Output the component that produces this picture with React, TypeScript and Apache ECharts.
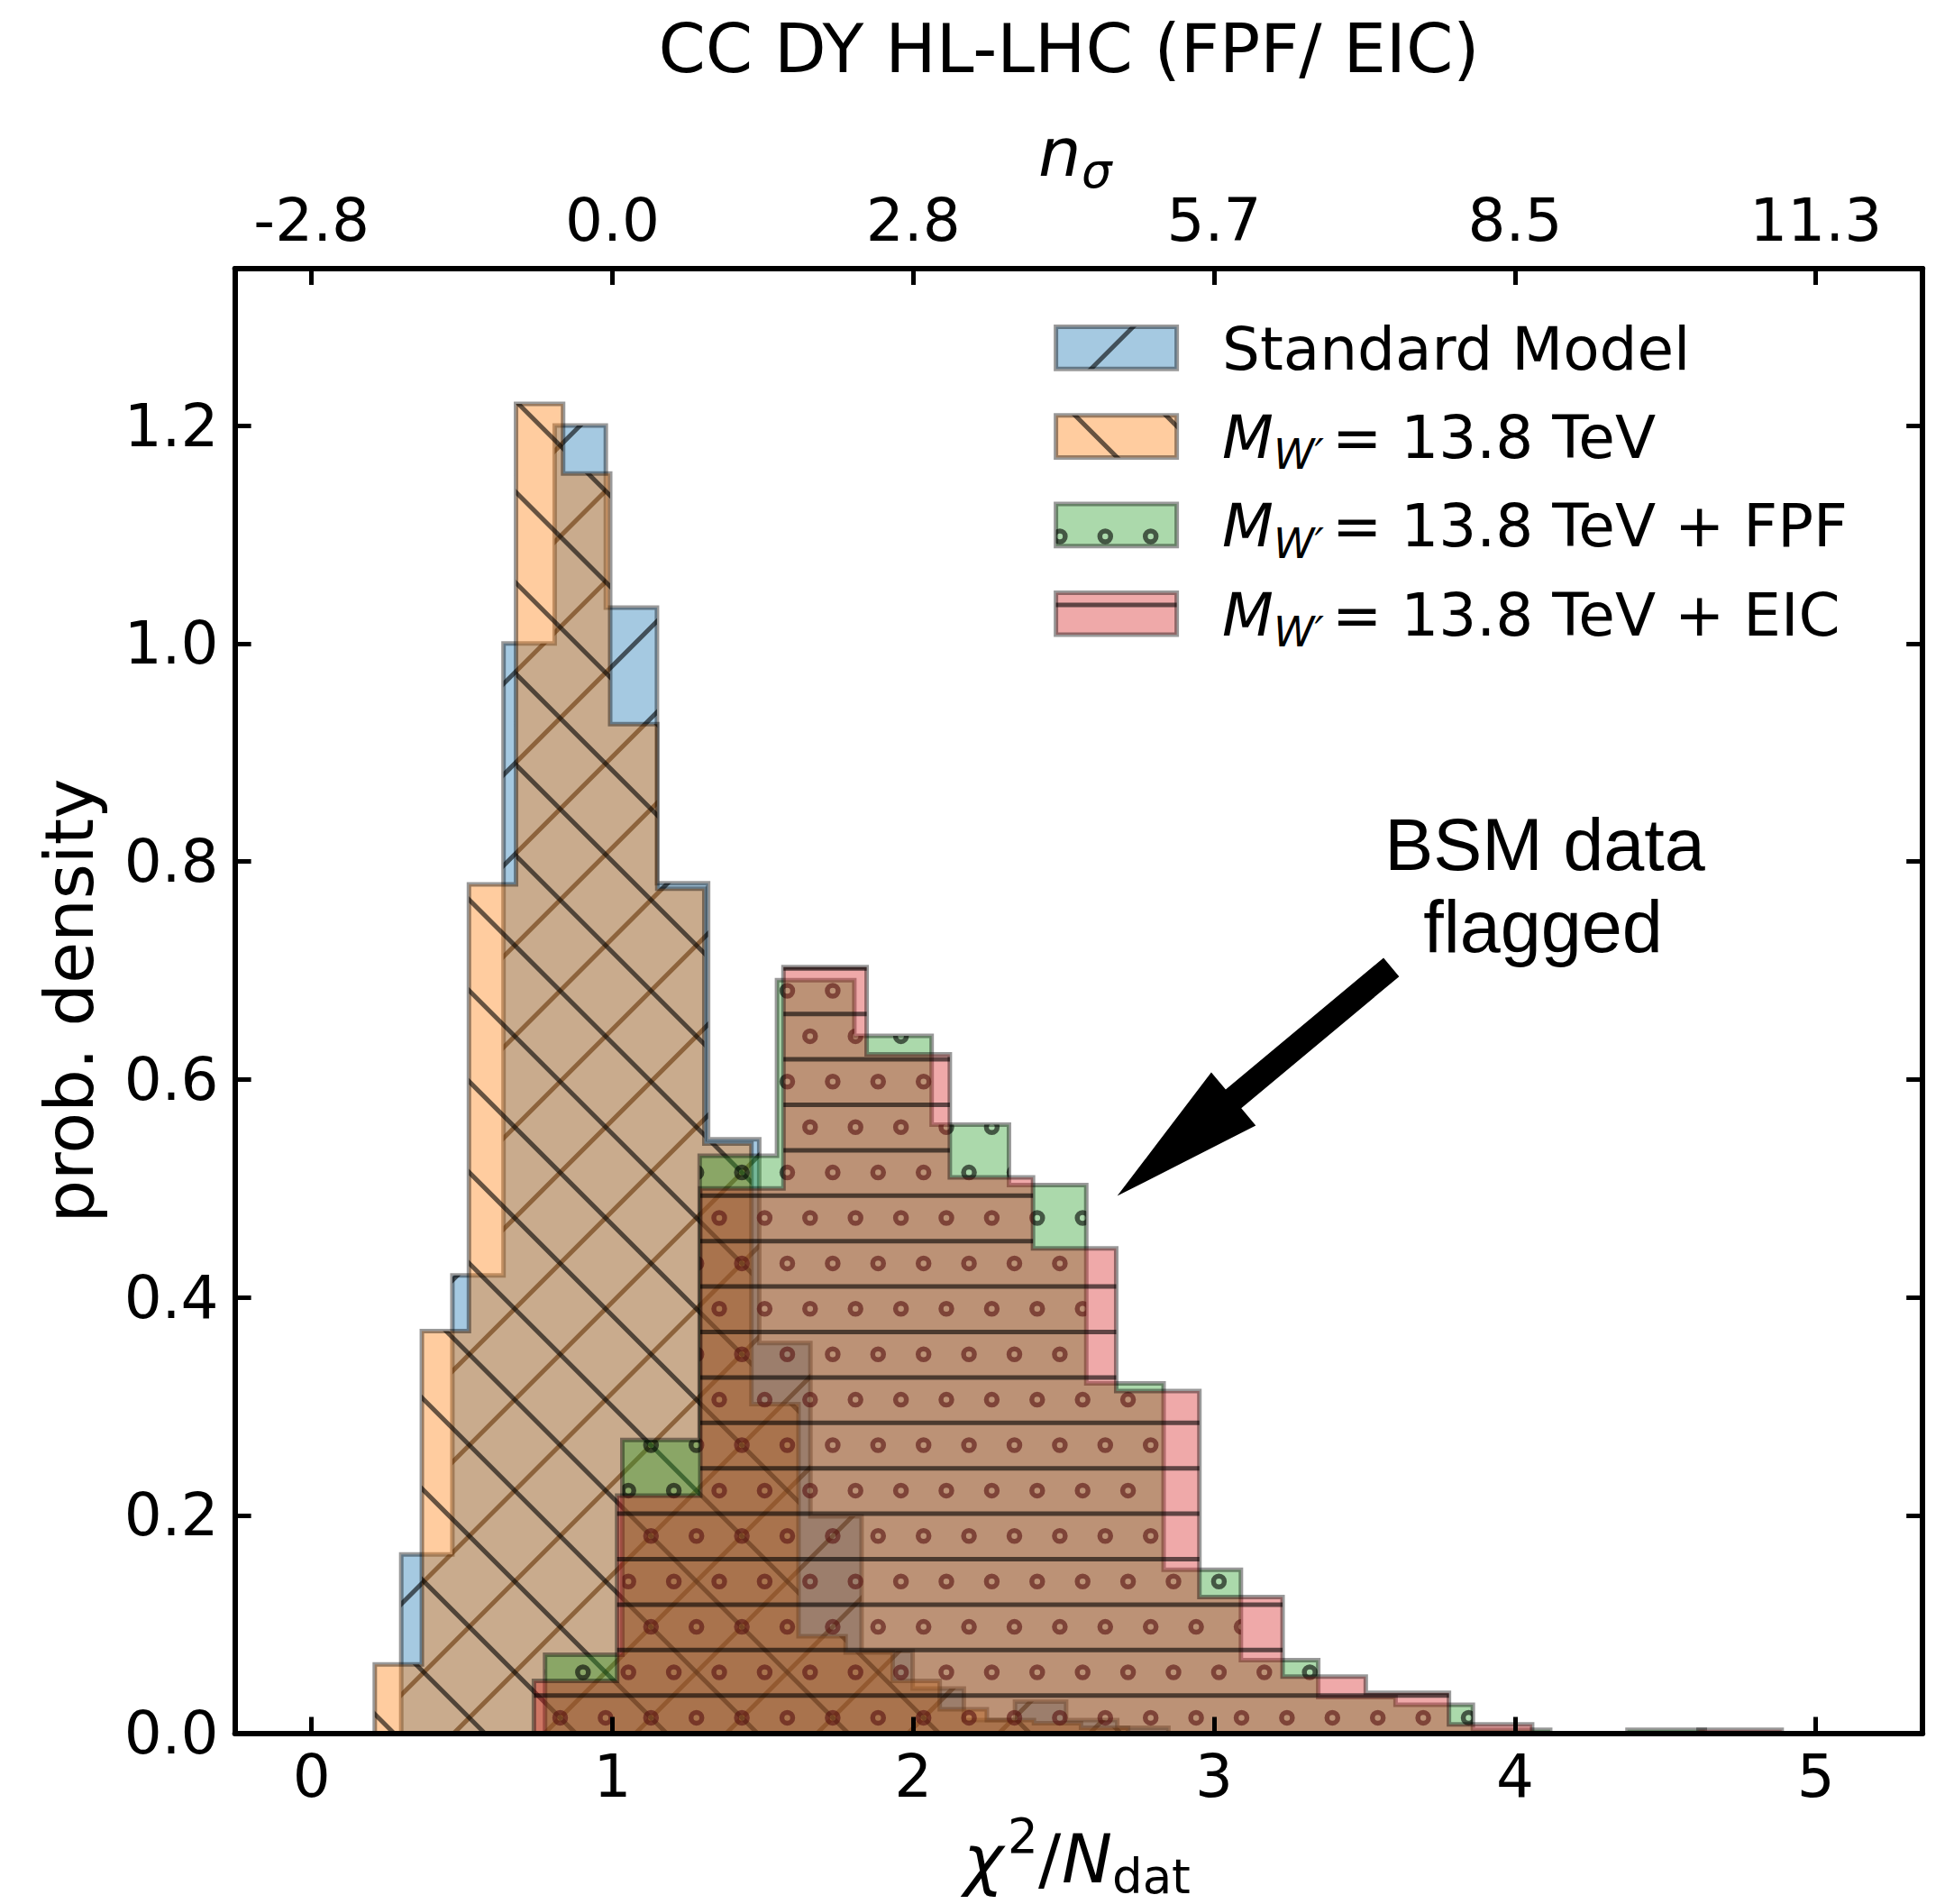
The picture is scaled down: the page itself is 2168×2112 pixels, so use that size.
import React, { useEffect, useRef } from "react";
import * as echarts from "echarts";

// ---------- axis ticks ----------
const xTickValues = [0, 1, 2, 3, 4, 5];
const xTickLabels = ["0", "1", "2", "3", "4", "5"];
const nSigmaTickLabels = ["-2.8", "0.0", "2.8", "5.7", "8.5", "11.3"];
const yTickValues = [0, 0.2, 0.4, 0.6, 0.8, 1.0, 1.2];
const yTickLabels = ["0.0", "0.2", "0.4", "0.6", "0.8", "1.0", "1.2"];

// ---------- histogram data (bin edges + densities) ----------
const smEdges = [0.298, 0.468, 0.638, 0.808, 0.978, 1.148, 1.318, 1.488, 1.658, 1.828, 1.998, 2.168, 2.338, 2.508, 2.678, 2.848];
const smHeights = [0.164, 0.42, 1.0, 1.2, 1.033, 0.78, 0.545, 0.358, 0.199, 0.0754, 0.041, 0.012, 0.029, 0.012, 0.005];

const wEdges = [0.21, 0.3665, 0.523, 0.6795, 0.836, 0.9925, 1.149, 1.3055, 1.462, 1.6185, 1.775, 1.9315, 2.088, 2.2445, 2.401, 2.5575, 2.714];
const wHeights = [0.063, 0.369, 0.779, 1.22, 1.156, 0.926, 0.775, 0.541, 0.302, 0.089, 0.074, 0.048, 0.022, 0.012, 0.009, 0.005];

const fpfEdges = [0.776, 1.033, 1.29, 1.547, 1.804, 2.061, 2.318, 2.575, 2.832, 3.089, 3.346, 3.603, 3.86, 4.117, 4.374, 4.631, 4.888];
const fpfHeights = [0.072, 0.269, 0.53, 0.691, 0.64, 0.5585, 0.503, 0.321, 0.15, 0.067, 0.033, 0.026, 0.003, 0, 0.003, 0];

const eicEdges = [0.739, 1.0155, 1.292, 1.5685, 1.845, 2.1215, 2.398, 2.6745, 2.951, 3.2275, 3.504, 3.7805, 4.057, 4.3335, 4.61, 4.8865];
const eicHeights = [0.048, 0.218, 0.5, 0.703, 0.623, 0.51, 0.445, 0.314, 0.125, 0.052, 0.037, 0.008, 0, 0, 0.003];

const seriesNames = ["Standard Model", "M_W' = 13.8 TeV", "M_W' = 13.8 TeV + FPF", "M_W' = 13.8 TeV + EIC"];
const legendSuffixes = ["", "= 13.8 TeV", "= 13.8 TeV + FPF", "= 13.8 TeV + EIC"];

// annotation (data coordinates)
const arrowTip = [2.678, 0.493];
const arrowTail = [3.589, 0.703];
const annotationLines = ["BSM data", "flagged"];

// ---------- styling ----------
const X_MIN = -0.255;
const X_MAX = 5.355;
const Y_MIN = 0;
const Y_MAX = 1.344;
const FILLS = ["rgba(31,119,180,0.4)", "rgba(255,127,14,0.4)", "rgba(44,160,44,0.4)", "rgba(214,39,40,0.4)"];
const HATCHES = ["/", "\\", "o", "-"];
const EDGE = "rgba(0,0,0,0.4)";
const HATCH_COLOR = "rgba(0,0,0,0.6)";
const DJ = '"DejaVu Sans"';
const LIB = '"Liberation Sans"';

// hatch geometry (page pixels): period and phases
const TILE = 504;
const P = 100.8;
const HP = 50.4;

function makeHatch(kind: string) {
  const c = document.createElement("canvas");
  c.width = TILE;
  c.height = TILE;
  const ctx = c.getContext("2d") as CanvasRenderingContext2D;
  ctx.strokeStyle = HATCH_COLOR;
  ctx.lineWidth = 5;
  if (kind === "/") {
    ctx.beginPath();
    for (let k = -1; k <= 11; k++) {
      const s = 6.9 + P * k;
      ctx.moveTo(s + 30, -30);
      ctx.lineTo(s - TILE - 30, TILE + 30);
    }
    ctx.stroke();
  } else if (kind === "\\") {
    ctx.beginPath();
    for (let k = -7; k <= 6; k++) {
      const d = 74.3 + P * k;
      ctx.moveTo(-30, d - 30);
      ctx.lineTo(TILE + 30, d + TILE + 30);
    }
    ctx.stroke();
  } else if (kind === "-") {
    ctx.beginPath();
    for (let k = 0; k < 10; k++) {
      const y = 15.9 + HP * k;
      ctx.moveTo(-10, y);
      ctx.lineTo(TILE + 10, y);
    }
    ctx.stroke();
  } else if (kind === "o") {
    ctx.lineWidth = 5.5;
    for (let n = 0; n < 10; n++) {
      const y = 40.6 + HP * n;
      const x0 = n % 2 === 0 ? 42.0 : 16.7;
      for (let m = 0; m < 10; m++) {
        const x = x0 + HP * m;
        for (const ox of [-TILE, 0, TILE])
          for (const oy of [-TILE, 0, TILE]) {
            ctx.beginPath();
            ctx.arc(x + ox, y + oy, 6, 0, Math.PI * 2);
            ctx.stroke();
          }
      }
    }
  }
  return { image: c.toDataURL("image/png"), repeat: "repeat", imageWidth: TILE, imageHeight: TILE };
}

function txt(text: string, x: number, baseline: number, size: number, opts: any = {}) {
  const fam = opts.family || DJ;
  return {
    type: "text",
    x,
    y: baseline - 0.346 * size,
    z: 100,
    silent: true,
    style: {
      text,
      font: `${opts.italic ? "italic " : ""}${size}px ${fam}`,
      fill: "#000",
      align: opts.align || "left",
      verticalAlign: "middle",
    },
  };
}

export default function App() {
  const ref = useRef<HTMLDivElement>(null);

  useEffect(() => {
    const el = ref.current as HTMLDivElement;
    const chart = echarts.init(el, null, { renderer: "svg" });
    const patterns = HATCHES.map((h) => makeHatch(h));

    const hists = [
      { edges: smEdges, heights: smHeights },
      { edges: wEdges, heights: wHeights },
      { edges: fpfEdges, heights: fpfHeights },
      { edges: eicEdges, heights: eicHeights },
    ];

    const labelFont = { fontFamily: "DejaVu Sans", fontSize: 66, color: "#000" };
    const lineStyle = { color: "#000", width: 6 };
    const tickStyle = { color: "#000", width: 5 };
    const lookup = (vals: number[], labels: string[]) => (v: number) => {
      const i = vals.findIndex((t) => Math.abs(t - v) < 1e-6);
      return i >= 0 ? labels[i] : "";
    };

    const option: any = {
      animation: false,
      grid: { left: 260.6, top: 298, width: 1872.6, height: 1624.5, containLabel: false },
      xAxis: [
        {
          type: "value",
          position: "bottom",
          min: X_MIN,
          max: X_MAX,
          z: 10,
          splitLine: { show: false },
          axisLine: { show: true, onZero: false, lineStyle },
          axisTick: { show: true, inside: true, length: 18, lineStyle: tickStyle, customValues: xTickValues },
          axisLabel: { ...labelFont, margin: 15, customValues: xTickValues, formatter: lookup(xTickValues, xTickLabels) },
        },
        {
          type: "value",
          position: "top",
          min: X_MIN,
          max: X_MAX,
          z: 10,
          splitLine: { show: false },
          axisLine: { show: true, onZero: false, lineStyle },
          axisTick: { show: true, inside: true, length: 18, lineStyle: tickStyle, customValues: xTickValues },
          axisLabel: { ...labelFont, margin: 21, customValues: xTickValues, formatter: lookup(xTickValues, nSigmaTickLabels) },
        },
      ],
      yAxis: [
        {
          type: "value",
          position: "left",
          min: Y_MIN,
          max: Y_MAX,
          z: 10,
          splitLine: { show: false },
          axisLine: { show: true, onZero: false, lineStyle },
          axisTick: { show: true, inside: true, length: 18, lineStyle: tickStyle, customValues: yTickValues },
          axisLabel: { ...labelFont, margin: 18, customValues: yTickValues, formatter: lookup(yTickValues, yTickLabels) },
        },
        {
          type: "value",
          position: "right",
          min: Y_MIN,
          max: Y_MAX,
          z: 10,
          splitLine: { show: false },
          axisLine: { show: true, onZero: false, lineStyle },
          axisTick: { show: true, inside: true, length: 18, lineStyle: tickStyle, customValues: yTickValues },
          axisLabel: { show: false },
        },
      ],
      series: hists.map((h, si) => ({
        type: "custom",
        name: seriesNames[si],
        xAxisIndex: 0,
        yAxisIndex: 0,
        silent: true,
        clip: false,
        z: 2 + si * 0.01,
        data: h.heights.map((v, i) => [h.edges[i], h.edges[i + 1], v]),
        encode: { x: [0, 1], y: 2 },
        renderItem: (params: any, api: any) => {
          if (params.dataIndex !== 0) return null;
          const pts: number[][] = [api.coord([h.edges[0], 0])];
          h.heights.forEach((v, i) => {
            pts.push(api.coord([h.edges[i], v]));
            pts.push(api.coord([h.edges[i + 1], v]));
          });
          pts.push(api.coord([h.edges[h.edges.length - 1], 0]));
          return {
            type: "group",
            children: [
              { type: "polygon", shape: { points: pts }, style: { fill: FILLS[si], stroke: null } },
              {
                type: "polygon",
                shape: { points: pts },
                style: { fill: patterns[si], stroke: EDGE, lineWidth: 5, lineJoin: "miter" },
              },
            ],
          };
        },
      })),
    };

    chart.setOption(option);

    // ---------- annotations / legend / labels ----------
    const graphic: any[] = [];
    graphic.push(txt("CC DY HL-LHC (FPF/ EIC)", 1186, 80, 75, { align: "center" }));
    graphic.push(txt("n", 1152, 195, 75, { italic: true }));
    graphic.push(txt("σ", 1200, 208, 53, { italic: true }));
    graphic.push(txt("χ", 1069, 2088, 75, { italic: true }));
    graphic.push(txt("2", 1118, 2055, 53));
    graphic.push(txt("/", 1152, 2088, 75));
    graphic.push(txt("N", 1178, 2088, 75, { italic: true }));
    graphic.push(txt("dat", 1234, 2100, 53));
    graphic.push({
      type: "text",
      x: 77,
      y: 1110,
      rotation: Math.PI / 2,
      z: 100,
      silent: true,
      style: { text: "prob. density", font: `75px ${DJ}`, fill: "#000", align: "center", verticalAlign: "middle" },
    });

    // legend
    const legendBaselines = [410, 508.3, 606.6, 704.9];
    legendBaselines.forEach((B, i) => {
      const shape = { x: 1171.6, y: B - 47.5, width: 134, height: 46.7 };
      graphic.push({ type: "rect", z: 90, silent: true, shape, style: { fill: FILLS[i], stroke: null } });
      graphic.push({
        type: "rect",
        z: 91,
        silent: true,
        shape,
        style: { fill: patterns[i], stroke: EDGE, lineWidth: 5 },
      });
      if (i === 0) {
        graphic.push(txt(seriesNames[0], 1356, B, 66));
      } else {
        graphic.push(txt("M", 1356, B, 66, { italic: true }));
        graphic.push(txt("W′", 1413, B + 12, 46, { italic: true }));
        graphic.push(txt(legendSuffixes[i], 1478, B, 66));
      }
    });

    // annotation text
    graphic.push(txt(annotationLines[0], 1714, 965, 81, { align: "center", family: LIB }));
    graphic.push(txt(annotationLines[1], 1712, 1056, 81, { align: "center", family: LIB }));

    // arrow
    const tip = chart.convertToPixel({ seriesIndex: 0 }, arrowTip) as number[];
    const tail = chart.convertToPixel({ seriesIndex: 0 }, arrowTail) as number[];
    if (tip && tail) {
      const dx = tail[0] - tip[0];
      const dy = tail[1] - tip[1];
      const L = Math.hypot(dx, dy);
      const ux = dx / L;
      const uy = dy / L;
      const px = -uy;
      const py = ux;
      const headLen = 168;
      const headHalf = 38.5;
      const shaftHalf = 13.5;
      const bx = tip[0] + ux * headLen;
      const by = tip[1] + uy * headLen;
      const points = [
        [tip[0], tip[1]],
        [bx + px * headHalf, by + py * headHalf],
        [bx + px * shaftHalf, by + py * shaftHalf],
        [tail[0] + px * shaftHalf, tail[1] + py * shaftHalf],
        [tail[0] - px * shaftHalf, tail[1] - py * shaftHalf],
        [bx - px * shaftHalf, by - py * shaftHalf],
        [bx - px * headHalf, by - py * headHalf],
      ];
      graphic.push({ type: "polygon", z: 95, silent: true, shape: { points }, style: { fill: "#000", stroke: null } });
    }

    chart.setOption({ graphic });

    return () => {
      chart.dispose();
    };
  }, []);

  return <div ref={ref} style={{ position: "absolute", left: 0, top: 0, width: 2168, height: 2112 }} />;
}
